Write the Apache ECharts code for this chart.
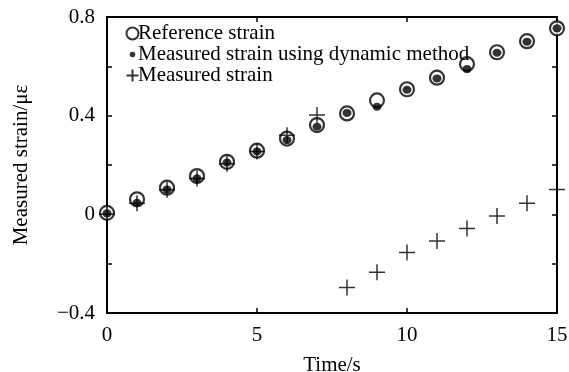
<!DOCTYPE html>
<html>
<head>
<meta charset="utf-8">
<script src="https://cdn.jsdelivr.net/npm/echarts@6/dist/echarts.min.js"></script>
<style>
  html, body { margin: 0; padding: 0; background: #fff; }
  #chart { width: 569px; height: 372px; }
</style>
</head>
<body>
<div id="chart"></div>
<script>
// time in seconds
const times = [0, 1, 2, 3, 4, 5, 6, 7, 8, 9, 10, 11, 12, 13, 14, 15];
const referenceStrain = [0.006, 0.061, 0.108, 0.155, 0.213, 0.258, 0.307, 0.362, 0.409, 0.462, 0.507, 0.554, 0.609, 0.657, 0.702, 0.754];
const dynamicStrain = [0.004, 0.047, 0.101, 0.146, 0.21, 0.255, 0.301, 0.355, 0.411, 0.436, 0.505, 0.551, 0.589, 0.655, 0.70, 0.754];
const measuredStrain = [0.0, 0.045, 0.1, 0.145, 0.205, 0.255, 0.321, 0.403, -0.297, -0.235, -0.155, -0.108, -0.057, -0.007, 0.045, 0.101];
const yLabels = { '0.8': '0.8', '0.4': '0.4', '0': '0', '-0.4': '\u22120.4' };

const FONT = '"Liberation Serif", "Times New Roman", serif';
const pair = (ys) => times.map((t, i) => [t, ys[i]]);
const plusPath = 'path://M0,5L10,5M5,0L5,10';
// small dot inside a padded box so the legend icon stays small
const smallDotIcon = 'path://M0,0M12,12M6,3.2A2.8,2.8,0,1,1,6,8.8A2.8,2.8,0,1,1,6,3.2Z';

function initChart() {
    const chart = echarts.init(document.getElementById('chart'));
    const axisCommon = {
        axisLine: { show: true, onZero: false, lineStyle: { color: '#000', width: 2 } },
        axisTick: { show: true, inside: true, length: 5, lineStyle: { color: '#000', width: 1.5 } },
        splitLine: { show: false }
    };
    const option = {
        backgroundColor: '#fff',
        animation: false,
        grid: { left: 107, right: 12, top: 17, bottom: 59, outerBoundsMode: 'none' },
        legend: {
            orient: 'vertical',
            left: 124,
            top: 23,
            padding: 0,
            itemGap: 0,
            itemWidth: 13,
            itemHeight: 12,
            textStyle: { fontFamily: FONT, fontSize: 21, lineHeight: 19, color: '#000', padding: [0, 0, 0, -6] },
            data: [
                { name: 'Reference strain' },
                { name: 'Measured strain using dynamic method', icon: smallDotIcon },
                { name: 'Measured strain' }
            ]
        },
        xAxis: [{
            ...axisCommon,
            type: 'value', min: 0, max: 15, interval: 5,
            name: 'Time/s', nameLocation: 'middle', nameGap: 42,
            nameTextStyle: { fontFamily: FONT, fontSize: 21, color: '#000' },
            axisLabel: { fontFamily: FONT, fontSize: 21, color: '#000', margin: 12 }
        }, {
            ...axisCommon,
            type: 'value', min: 0, max: 15, interval: 5, position: 'top',
            axisLabel: { show: false }
        }],
        yAxis: [{
            ...axisCommon,
            type: 'value', min: -0.4, max: 0.8, interval: 0.2,
            name: 'Measured strain/\u03bc\u03b5', nameLocation: 'middle', nameGap: 75,
            nameTextStyle: { fontFamily: FONT, fontSize: 21, color: '#000' },
            axisLabel: {
                fontFamily: FONT, fontSize: 21, color: '#000', margin: 12,
                formatter: v => yLabels[String(Math.round(v * 10) / 10)] || ''
            }
        }, {
            ...axisCommon,
            type: 'value', min: -0.4, max: 0.8, interval: 0.2, position: 'right',
            axisLabel: { show: false }
        }],
        series: [{
            name: 'Reference strain',
            type: 'scatter',
            data: pair(referenceStrain),
            symbol: 'circle',
            symbolSize: 14,
            itemStyle: { color: '#fff', borderColor: '#000', borderWidth: 2.2 },
            z: 2
        }, {
            name: 'Measured strain using dynamic method',
            type: 'scatter',
            data: pair(dynamicStrain),
            symbol: 'circle',
            symbolSize: [9, 8],
            itemStyle: { color: '#000' },
            z: 3
        }, {
            name: 'Measured strain',
            type: 'scatter',
            data: pair(measuredStrain),
            symbol: plusPath,
            symbolSize: 16,
            itemStyle: { color: 'none', borderColor: '#000', borderWidth: 1.5 },
            z: 4
        }]
    };
    chart.setOption(option);
}

document.addEventListener('DOMContentLoaded', initChart);
</script>
</body>
</html>
